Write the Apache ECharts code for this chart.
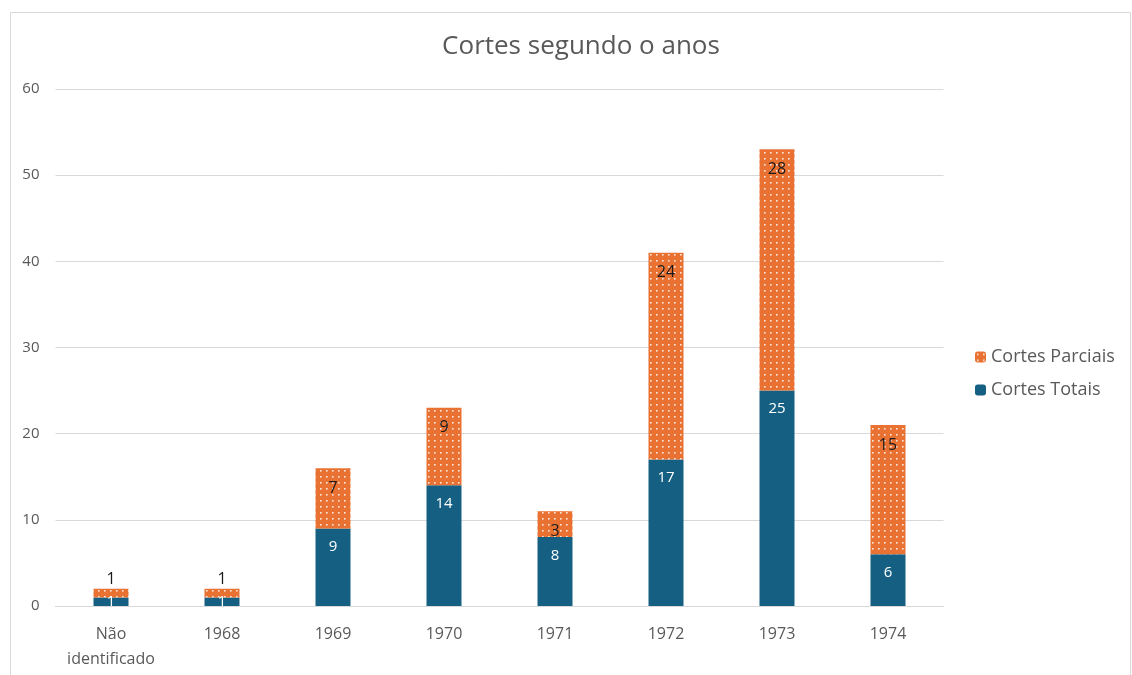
<!DOCTYPE html>
<html>
<head>
<meta charset="utf-8">
<script src="https://cdn.jsdelivr.net/npm/echarts@6/dist/echarts.min.js"></script>
<style>
  html, body { margin: 0; padding: 0; background: #fff; }
  #main { width: 1132px; height: 675px; }
</style>
</head>
<body>
<div id="main"></div>
<script>
// chart data
const categories = ['Não\nidentificado', '1968', '1969', '1970', '1971', '1972', '1973', '1974'];
const cortesTotais = [1, 1, 9, 14, 8, 17, 25, 6];
const cortesParciais = [1, 1, 7, 9, 3, 24, 28, 15];
const yTicks = [0, 10, 20, 30, 40, 50, 60];

const BLUE = '#156082';
const ORANGE = '#E97132';
const FONT = '"Open Sans", sans-serif';

// dotted orange fill, like the office pattern
function dotPattern() {
    const c = document.createElement('canvas');
    c.width = 6;
    c.height = 6;
    const ctx = c.getContext('2d');
    ctx.fillStyle = ORANGE;
    ctx.fillRect(0, 0, 6, 6);
    ctx.fillStyle = 'rgba(255,255,255,0.85)';
    ctx.fillRect(2, 2, 1.6, 1.6);
    return c;
}
const pattern = { image: dotPattern(), repeat: 'repeat' };

const chart = echarts.init(document.getElementById('main'));

const option = {
    animation: false,
    title: {
        text: 'Cortes segundo o anos',
        left: 576,
        top: 29,
        textAlign: 'center',
        textStyle: { fontFamily: FONT, fontSize: 26, fontWeight: 'normal', color: '#595959' }
    },
    graphic: [{
        type: 'rect',
        shape: { x: 10.5, y: 12.5, width: 1120, height: 670 },
        style: { fill: 'none', stroke: '#d9d9d9', lineWidth: 1 },
        silent: true
    }],
    legend: {
        orient: 'vertical',
        left: 970,
        top: 343,
        itemWidth: 11,
        itemHeight: 11,
        itemGap: 15,
        data: ['Cortes Parciais', 'Cortes Totais'],
        textStyle: { fontFamily: FONT, fontSize: 18, color: '#595959' }
    },
    grid: { left: 55.5, right: 188.5, top: 89, bottom: 69, containLabel: false },
    xAxis: {
        type: 'category',
        data: categories,
        axisTick: { show: false },
        axisLine: { lineStyle: { color: '#d9d9d9' } },
        axisLabel: { interval: 0, fontFamily: FONT, fontSize: 16, color: '#595959', margin: 16, lineHeight: 25 }
    },
    yAxis: {
        type: 'value',
        min: yTicks[0],
        max: yTicks[yTicks.length - 1],
        interval: 10,
        axisLine: { show: false },
        axisTick: { show: false },
        splitLine: { lineStyle: { color: '#d9d9d9' } },
        axisLabel: { fontFamily: FONT, fontSize: 15, color: '#595959', margin: 16 }
    },
    series: [
        {
            name: 'Cortes Totais',
            type: 'bar',
            stack: 'cortes',
            barWidth: 35,
            itemStyle: { color: BLUE },
            label: {
                show: true,
                position: 'insideTop',
                distance: 11,
                color: '#fff',
                fontFamily: FONT,
                fontSize: 15
            },
            data: cortesTotais.map((v) => v < 2
                ? { value: v, label: { position: 'inside' } }
                : v)
        },
        {
            name: 'Cortes Parciais',
            type: 'bar',
            stack: 'cortes',
            barWidth: 35,
            itemStyle: { color: pattern },
            label: {
                show: true,
                position: 'insideTop',
                distance: 12,
                color: '#1a1a1a',
                fontFamily: FONT,
                fontSize: 16
            },
            data: cortesParciais.map((v) => v < 2
                ? { value: v, label: { position: 'top', distance: 1 } }
                : v)
        }
    ]
};

chart.setOption(option);
</script>
</body>
</html>
